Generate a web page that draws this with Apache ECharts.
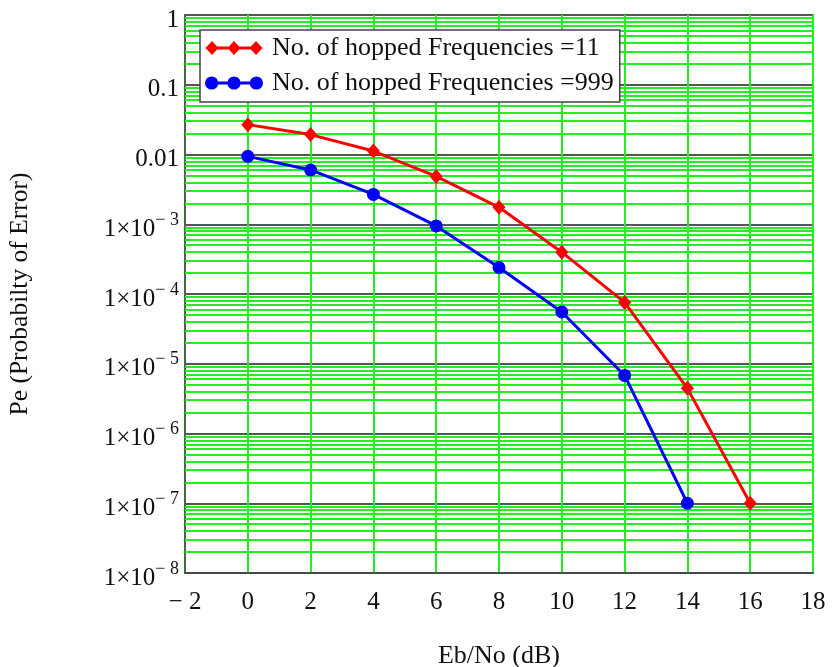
<!DOCTYPE html>
<html>
<head>
<meta charset="utf-8">
<script src="https://cdn.jsdelivr.net/npm/echarts@6/dist/echarts.min.js"></script>
<style>
html,body{margin:0;padding:0;background:#fff;}
#main{width:834px;height:667px;}
</style>
</head>
<body>
<div id="main"></div>
<script>
// ---- data ----
var ebno = [0, 2, 4, 6, 8, 10, 12, 14, 16];
var pe11 = [0.0268, 0.0193, 0.0112, 0.00485, 0.00175, 0.000398, 0.0000758, 0.00000444, 0.0000001];
var pe999 = [0.0094, 0.0060, 0.00268, 0.000946, 0.00024, 0.0000553, 0.0000068, 0.0000001];
var seriesNames = ['No. of hopped Frequencies =11', 'No. of hopped Frequencies =999'];
var yTickExp = [0, -1, -2, -3, -4, -5, -6, -7, -8];
var yTickText = ['1', '0.1', '0.01', null, null, null, null, null, null];
var xTicks = [-2, 0, 2, 4, 6, 8, 10, 12, 14, 16, 18];
var xTitle = 'Eb/No (dB)';
var yTitle = 'Pe (Probabilty of Error)';

var FONT = "'Liberation Serif', 'Times New Roman', serif";
var XMIN = xTicks[0], XMAX = xTicks[xTicks.length - 1];

function pairs(xs, ys) {
  var out = [];
  for (var i = 0; i < ys.length; i++) out.push([xs[i], ys[i]]);
  return out;
}

// minor grid lines (2..9 x 10^k) across the full x range
var minorLines = [];
for (var k = yTickExp[yTickExp.length - 1]; k < yTickExp[0]; k++) {
  for (var m = 2; m <= 9; m++) {
    var v = m * Math.pow(10, k);
    minorLines.push([{ coord: [XMIN, v] }, { coord: [XMAX, v] }]);
  }
}

var diamondIcon = 'path://M7,0 L13.5,7 L7,14 L0.5,7 Z M29,0 L35.5,7 L29,14 L22.5,7 Z M51,0 L57.5,7 L51,14 L44.5,7 Z M7,5.5 L51,5.5 L51,8.5 L7,8.5 Z';
var circleIcon = 'path://M13.5,7 A6.5,6.5 0 1,1 0.5,7 A6.5,6.5 0 1,1 13.5,7 Z M35.5,7 A6.5,6.5 0 1,1 22.5,7 A6.5,6.5 0 1,1 35.5,7 Z M57.5,7 A6.5,6.5 0 1,1 44.5,7 A6.5,6.5 0 1,1 57.5,7 Z M7,5.5 L51,5.5 L51,8.5 L7,8.5 Z';

var chart = echarts.init(document.getElementById('main'), null, { renderer: 'canvas' });

var GREEN = '#22ee22';

var option = {
  backgroundColor: '#ffffff',
  animation: false,
  textStyle: { fontFamily: FONT },
  grid: {
    left: 185, right: 21, top: 15, bottom: 94,
    outerBoundsMode: 'none', containLabel: false,
    show: true, borderColor: '#444', borderWidth: 1.5, backgroundColor: 'transparent'
  },
  legend: {
    data: [
      { name: seriesNames[0], icon: diamondIcon },
      { name: seriesNames[1], icon: circleIcon }
    ],
    orient: 'vertical',
    left: 200, top: 30,
    itemWidth: 58, itemHeight: 14, itemGap: 9,
    padding: [5, 6, 6, 5],
    backgroundColor: '#ffffff',
    borderColor: '#444', borderWidth: 1.5,
    textStyle: { fontFamily: FONT, fontSize: 26, color: '#111', padding: [0, 0, 0, 4] }
  },
  xAxis: {
    type: 'value', min: XMIN, max: XMAX, interval: 2,
    name: xTitle, nameLocation: 'middle', nameGap: 70,
    nameTextStyle: { fontFamily: FONT, fontSize: 26, color: '#111' },
    axisLine: { show: true, onZero: false, lineStyle: { color: '#444', width: 1.5 } },
    axisTick: { show: false },
    axisLabel: {
      fontFamily: FONT, fontSize: 25, color: '#111', margin: 17,
      formatter: function (v) { return v < 0 ? '\u2212 ' + Math.abs(v) : String(v); }
    },
    splitLine: { show: true, lineStyle: { color: GREEN, width: 2 } }
  },
  yAxis: {
    type: 'log', logBase: 10, min: 1e-8, max: 1,
    name: yTitle, nameLocation: 'middle', nameGap: 152, nameRotate: 90,
    nameTextStyle: { fontFamily: FONT, fontSize: 25.5, color: '#111' },
    axisLine: { show: true, onZero: false, lineStyle: { color: '#444', width: 1.5 } },
    axisTick: { show: false },
    axisLabel: {
      margin: 6,
      formatter: function (v) {
        var e = Math.round(Math.log10(v));
        var idx = yTickExp.indexOf(e);
        if (idx >= 0 && yTickText[idx]) return '{b|' + yTickText[idx] + '}';
        return '{m|1\u00d710}{s|\u2212 ' + Math.abs(e) + '}';
      },
      rich: {
        b: { fontFamily: FONT, fontSize: 25, color: '#111', padding: [10, 0, 0, 0] },
        m: { fontFamily: FONT, fontSize: 25, color: '#111', padding: [10, 0, 0, 0] },
        s: { fontFamily: FONT, fontSize: 18, color: '#111', padding: [0, 0, 8, 0] }
      }
    },
    splitLine: { show: true, lineStyle: { color: '#555', width: 2 } }
  },
  series: [
    {
      name: '_minorgrid', type: 'line', data: [], z: 1, silent: true,
      markLine: {
        z: 1, zlevel: 0,
        silent: true, symbol: ['none', 'none'], animation: false,
        label: { show: false },
        lineStyle: { color: GREEN, width: 2, type: 'solid' },
        emphasis: { disabled: true },
        data: minorLines
      }
    },
    {
      name: seriesNames[0], type: 'line', data: pairs(ebno, pe11), z: 3,
      color: '#ff0000',
      lineStyle: { width: 3, color: '#ff0000' },
      symbol: 'diamond', symbolSize: [13, 15],
      itemStyle: { color: '#ff0000' }
    },
    {
      name: seriesNames[1], type: 'line', data: pairs(ebno, pe999), z: 3,
      color: '#0000ff',
      lineStyle: { width: 3, color: '#0000ff' },
      symbol: 'circle', symbolSize: 13,
      itemStyle: { color: '#0000ff' }
    }
  ]
};
chart.setOption(option);
</script>
</body>
</html>
